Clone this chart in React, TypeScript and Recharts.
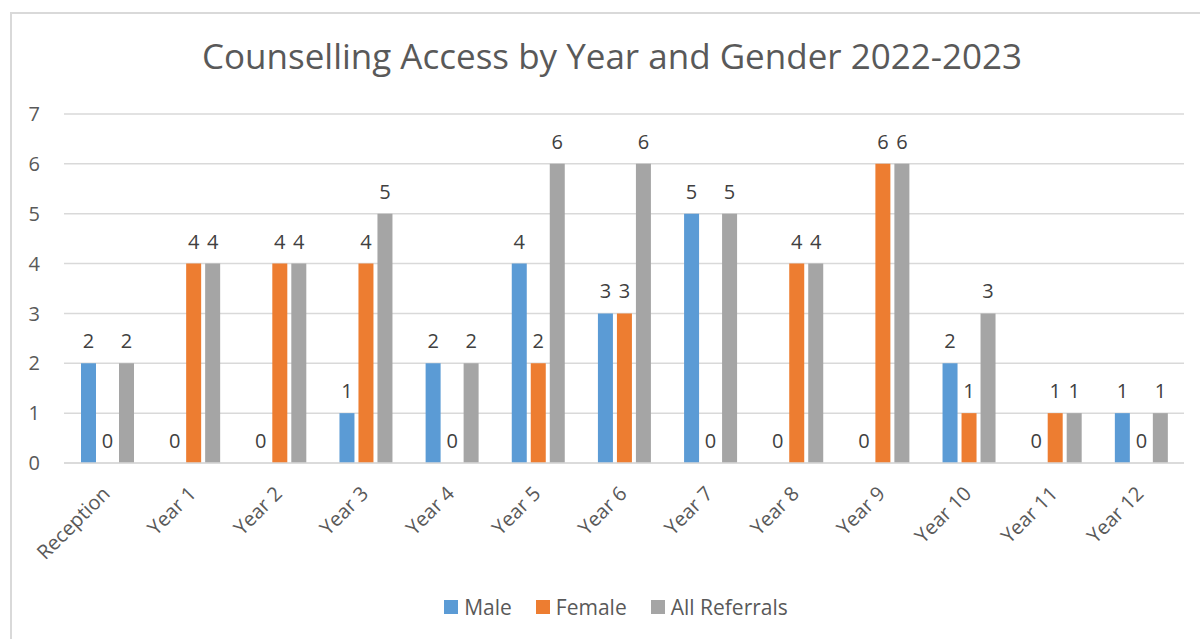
import React from "react";
import {
  BarChart,
  Bar,
  XAxis,
  YAxis,
  CartesianGrid,
  LabelList,
} from "recharts";

const categories = [
  "Reception",
  "Year 1",
  "Year 2",
  "Year 3",
  "Year 4",
  "Year 5",
  "Year 6",
  "Year 7",
  "Year 8",
  "Year 9",
  "Year 10",
  "Year 11",
  "Year 12",
];
const male = [2, 0, 0, 1, 2, 4, 3, 5, 0, 0, 2, 0, 1];
const female = [0, 4, 4, 4, 0, 2, 3, 0, 4, 6, 1, 1, 0];
const allReferrals = [2, 4, 4, 5, 2, 6, 6, 5, 4, 6, 3, 1, 1];
const yTicks = [0, 1, 2, 3, 4, 5, 6, 7];

const data = categories.map((year, i) => ({
  year,
  Male: male[i],
  Female: female[i],
  "All Referrals": allReferrals[i],
}));

const FONT = "'Open Sans', 'Liberation Sans', sans-serif";
const TEXT = "#595959";

const series = [
  { key: "Male", color: "#5B9BD5" },
  { key: "Female", color: "#ED7D31" },
  { key: "All Referrals", color: "#A5A5A5" },
];

const XTick = ({ x, y, payload }: any) => (
  <g transform={`translate(${x + 4},${y + 32})`}>
    <text
      transform="rotate(-45)"
      textAnchor="end"
      fill={TEXT}
      fontSize={20}
      fontFamily={FONT}
    >
      {payload.value}
    </text>
  </g>
);

export default function App() {
  return (
    <div
      style={{
        position: "fixed",
        left: 0,
        top: 0,
        width: 1200,
        height: 639,
        background: "#fff",
        overflow: "hidden",
      }}
    >
      <div
        style={{
          position: "absolute",
          left: 10,
          top: 12,
          width: 1300,
          height: 700,
          borderTop: "2px solid #d9d9d9",
          borderLeft: "2px solid #d9d9d9",
        }}
      />
      <div
        style={{
          position: "absolute",
          left: 12,
          top: 32,
          width: 1200,
          textAlign: "center",
          fontFamily: FONT,
          fontSize: 35,
          color: TEXT,
        }}
      >
        Counselling Access by Year and Gender 2022-2023
      </div>
      <div style={{ position: "absolute", left: 0, top: 0 }}>
        <BarChart
          width={1200}
          height={639}
          data={data}
          margin={{ top: 114, right: 16, left: 10, bottom: 66 }}
          barSize={15}
          barGap={4}
        >
          <CartesianGrid vertical={false} stroke="#d9d9d9" strokeWidth={1.5} />
          <XAxis
            dataKey="year"
            interval={0}
            tickLine={false}
            axisLine={{ stroke: "#d9d9d9", strokeWidth: 1.5 }}
            tickSize={0}
            tickMargin={0}
            tick={<XTick />}
            height={110}
          />
          <YAxis
            domain={[0, 7]}
            ticks={yTicks}
            width={54}
            axisLine={false}
            tickLine={false}
            tickMargin={18}
            tick={{ fill: TEXT, fontSize: 20, fontFamily: FONT }}
          />
          {series.map((s) => (
            <Bar
              key={s.key}
              dataKey={s.key}
              fill={s.color}
              minPointSize={0.01}
              isAnimationActive={false}
            >
              <LabelList
                dataKey={s.key}
                position="top"
                offset={15}
                fill="#404040"
                fontSize={20}
                fontFamily={FONT}
              />
            </Bar>
          ))}
        </BarChart>
      </div>
      <div
        style={{
          position: "absolute",
          left: 0,
          top: 593,
          width: 1232,
          display: "flex",
          justifyContent: "center",
          gap: 24,
          fontFamily: FONT,
          fontSize: 21,
          color: TEXT,
        }}
      >
        {series.map((s) => (
          <div key={s.key} style={{ display: "flex", alignItems: "center" }}>
            <span
              style={{
                width: 14,
                height: 14,
                background: s.color,
                display: "inline-block",
                marginRight: 6,
              }}
            />
            {s.key}
          </div>
        ))}
      </div>
    </div>
  );
}
